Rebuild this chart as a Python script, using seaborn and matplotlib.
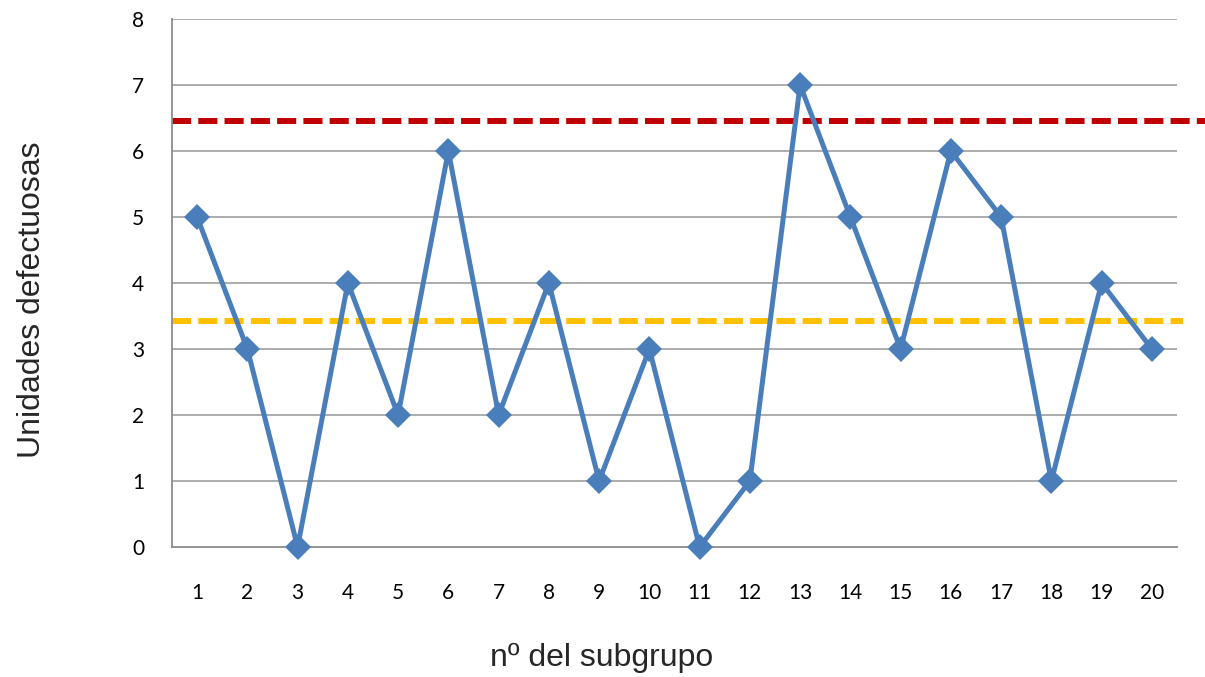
import matplotlib
matplotlib.use("Agg")
import matplotlib.pyplot as plt
import seaborn as sns
import pandas as pd
import numpy as np

subgroups = list(range(1, 21))
defects = [5, 3, 0, 4, 2, 6, 2, 4, 1, 3, 0, 1, 7, 5, 3, 6, 5, 1, 4, 3]
center_line = 3.42
upper_limit = 6.45
y_ticks = [0, 1, 2, 3, 4, 5, 6, 7, 8]

sns.set_theme(style="white")
plt.rcParams['font.family'] = ['Liberation Sans', 'DejaVu Sans']

df = pd.DataFrame({"subgrupo": subgroups, "defectuosas": defects})

fig = plt.figure(figsize=(12.05, 6.77), dpi=100)
ax = fig.add_axes([172/1205, 1 - 547/677, (1177-172)/1205, (547-19)/677])

ax.set_xlim(0.5, 20.5)
ax.set_ylim(0, 8)

for y in y_ticks[1:]:
    ax.axhline(y, color="#a6a6a6", lw=1.3, zorder=1)

# control lines
ax.plot([0.5, 20.62], [center_line, center_line], color="#ffc000", lw=4.3,
        dashes=(3.2, 1.2), clip_on=False, zorder=2, dash_capstyle="butt")
ax.plot([0.5, 21.1], [upper_limit, upper_limit], color="#c00000", lw=4.3,
        dashes=(3.2, 1.2), clip_on=False, zorder=2, dash_capstyle="butt")

sns.lineplot(data=df, x="subgrupo", y="defectuosas", ax=ax, color="#4a7ebb",
             lw=3.6, marker="D", markersize=13, markeredgewidth=0, zorder=3, clip_on=False)

ax.set_xticks(subgroups)
ax.set_xticklabels([str(s) for s in subgroups], fontfamily="Lato", fontsize=15)
ax.set_xticks(np.arange(0.5, 21, 1), minor=True)
ax.tick_params(axis="x", which="major", length=0, pad=26)
ax.tick_params(axis="x", which="minor", length=8, width=1.3, color="#8c8c8c", direction="out")
ax.set_yticks(y_ticks)
ax.set_yticklabels([str(t) for t in y_ticks], fontfamily="Lato", fontsize=15)
ax.tick_params(axis="y", which="major", length=8, width=1.3, color="#8c8c8c", direction="out", pad=12)
ax.tick_params(colors="#8c8c8c", labelcolor="black")

for s in ["top", "right"]:
    ax.spines[s].set_visible(False)
for s in ["left", "bottom"]:
    ax.spines[s].set_color("#8c8c8c")
    ax.spines[s].set_linewidth(1.3)

ax.set_xlabel("")
ax.set_ylabel("")
fig.text(602/1205, 1 - 658/677, "nº del subgrupo", ha="center", va="center", fontsize=23)
fig.text(32/1205, 1 - 300/677, "Unidades defectuosas", ha="center", va="center",
         rotation=90, fontsize=23)

fig.savefig("out.png", dpi=100)
